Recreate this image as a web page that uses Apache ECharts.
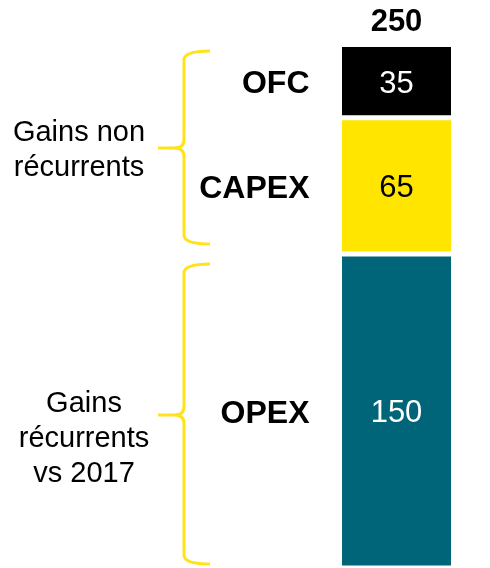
<!DOCTYPE html>
<html>
<head>
<meta charset="utf-8">
<script src="https://cdn.jsdelivr.net/npm/echarts@6/dist/echarts.min.js"></script>
<style>
  html, body { margin: 0; padding: 0; background: #fff; }
  #chart { width: 490px; height: 568px; }
</style>
</head>
<body>
<div id="chart"></div>
<script>
// data
var categories = ['Total'];
var segmentNames = ['OPEX', 'CAPEX', 'OFC'];
var opexValues = [150];
var capexValues = [65];
var ofcValues = [35];
var groupLabels = ['Gains non\nrécurrents', 'Gains\nrécurrents\nvs 2017'];

var segmentValues = [opexValues, capexValues, ofcValues];
var segmentColors = ['#006579', '#ffe500', '#000000'];
var valueColors = ['#fff', '#000', '#fff'];
var totalValue = opexValues[0] + capexValues[0] + ofcValues[0];

var chartDom = document.getElementById('chart');
var myChart = echarts.init(chartDom);
var font = 'Liberation Sans, Arial, sans-serif';
var braceColor = '#ffe21a';

// curly brace made of lines and quadratic curves
function brace(top, mid, bot) {
    var x = 184, tip = 210, left = 158, r = 9;
    var st = { stroke: braceColor, lineWidth: 3, fill: null };
    return [
        { type: 'bezierCurve', shape: { x1: tip, y1: top, cpx1: x, cpy1: top, x2: x, y2: top + r }, style: st },
        { type: 'line', shape: { x1: x, y1: top + r, x2: x, y2: mid - r }, style: st },
        { type: 'bezierCurve', shape: { x1: x, y1: mid - r, cpx1: x, cpy1: mid, x2: x - r, y2: mid }, style: st },
        { type: 'line', shape: { x1: x - r, y1: mid, x2: left, y2: mid }, style: st },
        { type: 'bezierCurve', shape: { x1: x, y1: mid + r, cpx1: x, cpy1: mid, x2: x - r, y2: mid }, style: st },
        { type: 'line', shape: { x1: x, y1: mid + r, x2: x, y2: bot - r }, style: st },
        { type: 'bezierCurve', shape: { x1: x, y1: bot - r, cpx1: x, cpy1: bot, x2: tip, y2: bot }, style: st }
    ];
}

var series = [];
// visible stacked segments with value inside
segmentNames.forEach(function (name, i) {
    series.push({
        name: name,
        type: 'bar',
        stack: 'total',
        barWidth: '100%',
        barGap: '-100%',
        data: segmentValues[i],
        itemStyle: { color: segmentColors[i], borderColor: '#fff', borderWidth: 2.5 },
        label: {
            show: true,
            position: 'inside',
            offset: [0, 3],
            color: valueColors[i],
            fontFamily: font,
            fontSize: 31
        }
    });
});
// transparent overlay to carry the names on the left
segmentNames.forEach(function (name, i) {
    series.push({
        name: name + '_name',
        type: 'bar',
        stack: 'names',
        barWidth: '100%',
        barGap: '-100%',
        silent: true,
        data: segmentValues[i],
        itemStyle: { color: 'rgba(0,0,0,0)' },
        label: {
            show: true,
            position: 'left',
            distance: 30,
            offset: [0, 3],
            formatter: name,
            color: '#000',
            fontFamily: font,
            fontWeight: 'bold',
            fontSize: 32
        }
    });
});
// total on top
series.push({
    type: 'scatter',
    symbolSize: 0,
    silent: true,
    data: [[0, totalValue]],
    itemStyle: { opacity: 1 },
    label: {
        show: true,
        position: 'top',
        distance: 7,
        formatter: String(totalValue),
        color: '#000',
        fontFamily: font,
        fontWeight: 'bold',
        fontSize: 31,
        lineHeight: 31
    }
});

var option = {
    animation: false,
    grid: { left: 339.5, width: 114, top: 44.5, height: 529 },
    xAxis: { type: 'category', data: categories, show: false },
    yAxis: { type: 'value', min: 0, max: 250, show: false },
    series: series,
    graphic: brace(51, 148, 244).concat(brace(264, 415, 564)).concat([
        {
            type: 'text', x: 79, y: 150,
            style: {
                text: groupLabels[0], fill: '#000', font: '29px ' + font,
                align: 'center', verticalAlign: 'middle', lineHeight: 35
            }
        },
        {
            type: 'text', x: 84, y: 439,
            style: {
                text: groupLabels[1], fill: '#000', font: '29px ' + font,
                align: 'center', verticalAlign: 'middle', lineHeight: 35
            }
        }
    ])
};

option && myChart.setOption(option);
</script>
</body>
</html>
